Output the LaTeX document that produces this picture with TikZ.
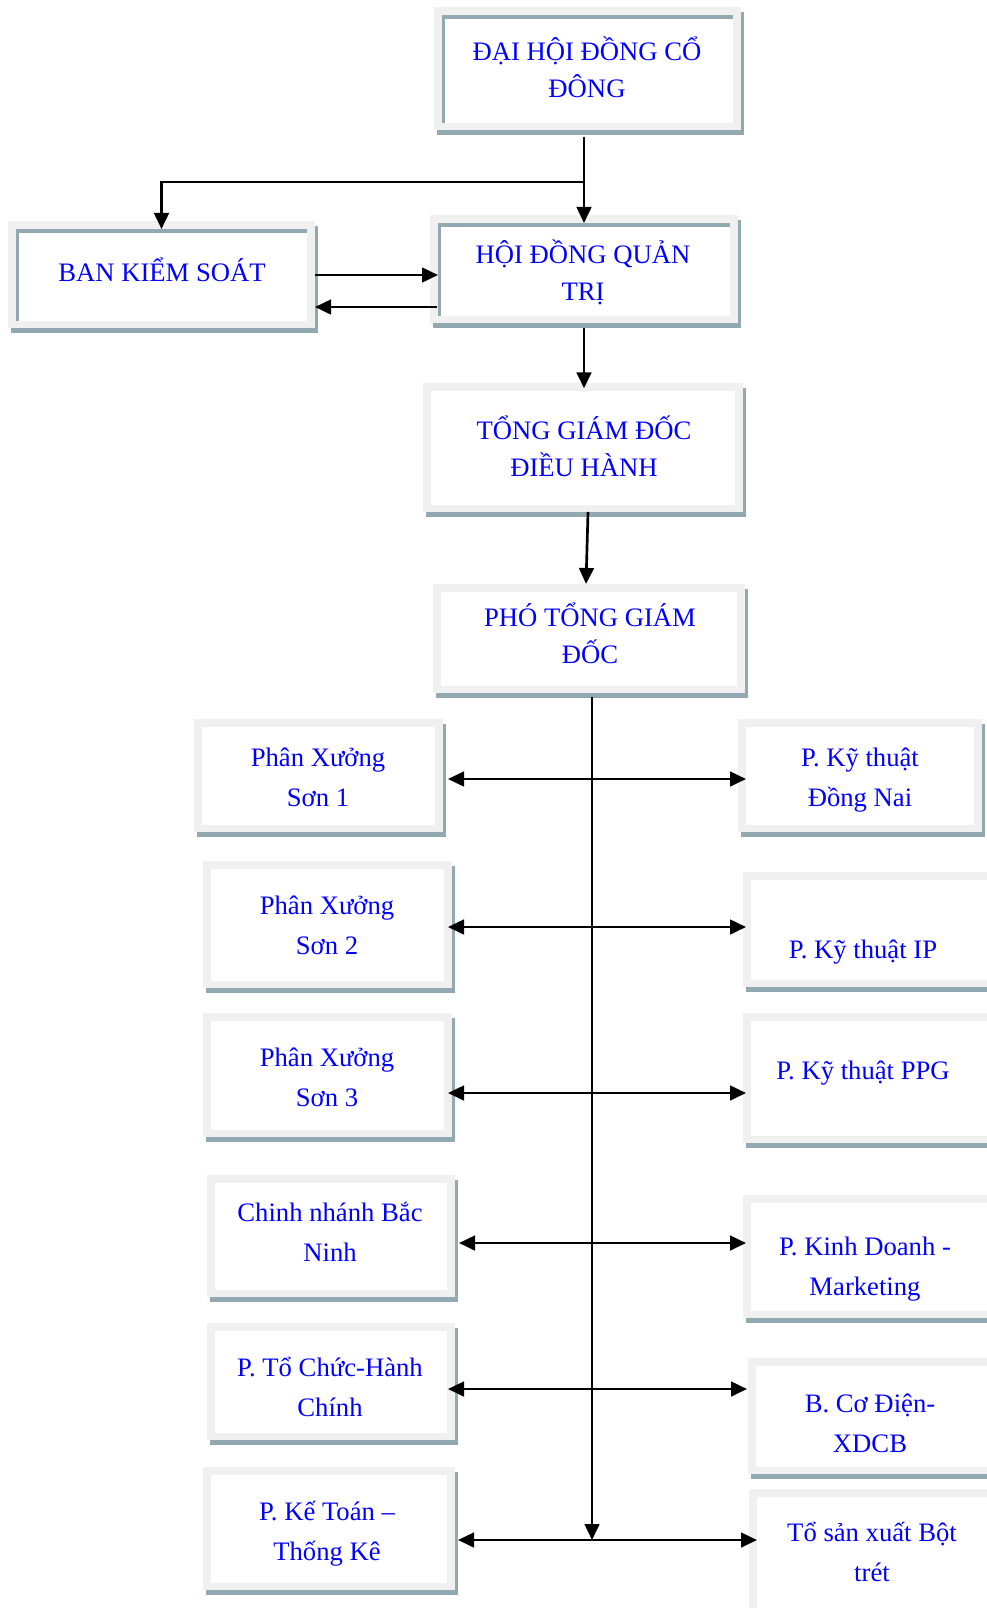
\documentclass[tikz,border=0pt]{standalone}
\usepackage{fontspec}
\setmainfont{Liberation Serif}
\usetikzlibrary{calc,arrows.meta,fit}
\definecolor{framegray}{HTML}{F0F0F0}
\definecolor{shadowblue}{HTML}{93A9B1}
\definecolor{txtblue}{HTML}{0000FF}
\tikzset{
  boxshadow/.style={fill=shadowblue, draw=none},
  boxframe/.style={fill=framegray, draw=none},
  boxinner/.style={fill=white, draw=none},
  toptext/.style={text=txtblue, align=center, font=\fontsize{20}{27.75}\selectfont, inner sep=0pt},
  subtext/.style={text=txtblue, align=center, font=\fontsize{20}{30}\selectfont, inner sep=0pt},
  boxnode/.style={inner sep=0pt, outer sep=0pt, draw=none},
  conn/.style={line width=2pt, -{Triangle[length=12pt,width=11pt]}},
  conntwo/.style={line width=2pt, {Triangle[length=12pt,width=11pt]}-{Triangle[length=12pt,width=11pt]}},
}
% #1 name, #2 x1, #3 y1, #4 x2, #5 y2, #6 inner dark line (1/0)
\newcommand\orgbox[6]{%
  \fill[boxshadow] (#2+3,#3+5) rectangle (#4+3,#5+5);
  \fill[boxframe] (#2,#3) rectangle (#4,#5);
  \ifnum#6=1
    \fill[boxshadow] (#2+8,#3+8) rectangle (#4-8,#5-7);
    \fill[boxinner] (#2+11,#3+12) rectangle (#4-8,#5-7);
  \else
    \fill[boxinner] (#2+8,#3+8) rectangle (#4-8,#5-7);
  \fi
  \node[boxnode, fit={(#2,#3) (#4,#5)}] (#1) {};
}
\begin{document}
\begin{tikzpicture}[x=0.75pt,y=-0.75pt]
\useasboundingbox (0,0) rectangle (987,1608);
\clip (0,0) rectangle (987,1608);
\fill[white] (0,0) rectangle (987,1608);

% boxes
\orgbox{dh}{434}{7}{741}{130}{1}
\orgbox{bks}{8}{221}{315}{328}{1}
\orgbox{hq}{430}{215}{738}{323}{1}
\orgbox{tgd}{423}{383}{743}{512}{0}
\orgbox{pt}{433}{584}{745}{693}{0}
\orgbox{L1}{194}{719}{443}{832}{0}
\orgbox{L2}{203}{861}{452}{988}{0}
\orgbox{L3}{203}{1013}{452}{1137}{0}
\orgbox{L4}{207}{1175}{455}{1297}{0}
\orgbox{L5}{207}{1323}{455}{1440}{0}
\orgbox{L6}{203}{1467}{455}{1590}{0}
\orgbox{R1}{738}{719}{982}{832}{0}
\orgbox{R2}{743}{872}{995}{987}{0}
\orgbox{R3}{743}{1013}{995}{1143}{0}
\orgbox{R4}{743}{1195}{995}{1318}{0}
\orgbox{R5}{748}{1358}{995}{1474}{0}
\orgbox{R6}{749}{1489}{995}{1625}{0}

% texts
\node[toptext] (dh-t) at (587,67) {ĐẠI HỘI ĐỒNG CỔ\\ĐÔNG};
\node[toptext] (bks-t) at (162,270) {BAN KIỂM SOÁT};
\node[toptext] (hq-t) at (583,272) {HỘI ĐỒNG QUẢN\\TRỊ};
\node[toptext] (tgd-t) at (584,446) {TỔNG GIÁM ĐỐC\\ĐIỀU HÀNH};
\node[toptext] (pt-t) at (590,633) {PHÓ TỔNG GIÁM\\ĐỐC};
\node[subtext] (L1-t) at (318,777) {Phân Xưởng\\Sơn 1};
\node[subtext] (L2-t) at (327,925) {Phân Xưởng\\Sơn 2};
\node[subtext] (L3-t) at (327,1077) {Phân Xưởng\\Sơn 3};
\node[subtext] (L4-t) at (330,1232) {Chinh nhánh Bắc\\Ninh};
\node[subtext] (L5-t) at (330,1387) {P. Tổ Chức-Hành\\Chính};
\node[subtext] (L6-t) at (327,1534) {P. Kế Toán –\\Thống Kê};
\node[subtext] (R1-t) at (860,780) {P. Kỹ thuật\\Đồng Nai};
\node[subtext] (R2-t) at (863,952) {P. Kỹ thuật IP};
\node[subtext] (R3-t) at (863,1073) {P. Kỹ thuật PPG};
\node[subtext] (R4-t) at (865,1269) {P. Kinh Doanh -\\Marketing};
\node[subtext] (R5-t) at (870,1423) {B. Cơ Điện-\\XDCB};
\node[subtext] (R6-t) at (872,1552) {Tổ sản xuất Bột\\trét};

% level coordinates
\coordinate (yBr) at (0,182);
\coordinate (yA) at (0,275);
\coordinate (yB) at (0,307);
\coordinate (r1) at (0,779);
\coordinate (r2) at (0,927);
\coordinate (r3) at (0,1093);
\coordinate (r4) at (0,1243);
\coordinate (r5) at (0,1389);
\coordinate (r6) at (0,1540);
\coordinate (trunkEnd) at (592,1540);

% connectors
\draw[conn, shorten <=5pt, shorten >=-6pt] (dh.south -| hq.north) -- (hq.north);
\draw[conn, shorten >=-6pt] (hq.north |- yBr) -| (bks.north);
\draw[conn, shorten >=-6pt] (bks.east |- yA) -- (hq.west |- yA);
\draw[conn, shorten <=-5pt] (hq.west |- yB) -- (bks.east |- yB);
\draw[conn, shorten <=3.75pt, shorten >=-4pt] (hq.south) -- (tgd.north -| hq.south);
\draw[conn] ($(tgd.south)+(5,0)$) -- ($(pt.north)+(-3,0)$);
\draw[conn, shorten <=3pt] ($(pt.south)+(3,0)$) -- (trunkEnd);

\draw[conntwo, shorten <=3.75pt, shorten >=-6pt] (L1.east |- r1) -- (R1.west |- r1);
\draw[conntwo, shorten <=-3pt, shorten >=-2.25pt] (L2.east |- r2) -- (R2.west |- r2);
\draw[conntwo, shorten <=-3pt, shorten >=-2.25pt] (L3.east |- r3) -- (R3.west |- r3);
\draw[conntwo, shorten <=3pt, shorten >=-2.25pt] (L4.east |- r4) -- (R4.west |- r4);
\draw[conntwo, shorten <=-5.25pt, shorten >=0.75pt] (L5.east |- r5) -- (R5.west |- r5);
\draw[conntwo, shorten <=2.25pt, shorten >=-6pt] (L6.east |- r6) -- (R6.west |- r6);
\end{tikzpicture}
\end{document}
